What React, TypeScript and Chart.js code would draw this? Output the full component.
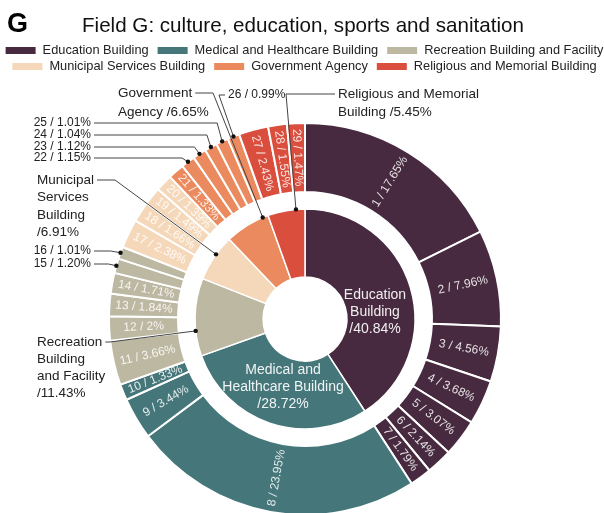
import { useEffect, useRef } from 'react';
import { Chart, registerables } from 'chart.js';

Chart.register(...registerables);

const FONT = '"Liberation Sans", Arial, Helvetica, sans-serif';

const titleLetter = 'G';
const titleText = 'Field G: culture, education, sports and sanitation';

const categories = [
  'Education Building',
  'Medical and Healthcare Building',
  'Recreation Building and Facility',
  'Municipal Services Building',
  'Government Agency',
  'Religious and Memorial Building',
];
const categoryShares = [40.84, 28.72, 11.43, 6.91, 6.65, 5.45];
const categoryColors = ['#472a3f', '#44767a', '#bcb8a2', '#f5d8b9', '#ea8a5e', '#da4e3d'];

// sub-items 1..29 (outer ring), clockwise from 12 o'clock
const subShares = [
  17.65, 7.96, 4.56, 3.68, 3.07, 2.14, 1.79,
  23.95, 3.44, 1.33,
  3.66, 2, 1.84, 1.71, 1.2, 1.01,
  2.38, 1.66, 1.49, 1.39,
  1.33, 1.15, 1.12, 1.04, 1.01, 0.99,
  2.43, 1.55, 1.47,
];
const subCategory = [
  0, 0, 0, 0, 0, 0, 0,
  1, 1, 1,
  2, 2, 2, 2, 2, 2,
  3, 3, 3, 3,
  4, 4, 4, 4, 4, 4,
  5, 5, 5,
];

const legendRows = [[0, 1, 2], [3, 4, 5]];

// inner ring labels drawn inside the slice (offsets from centre)
const innerInside = [
  { cat: 0, lines: ['Education', 'Building', '/40.84%'], dx: 70, dy: -24, lh: 17 },
  { cat: 1, lines: ['Medical and', 'Healthcare Building', '/28.72%'], dx: -22, dy: 51, lh: 17 },
];

// inner ring callouts
const innerCallouts = [
  { cat: 4, lines: ['Government', 'Agency /6.65%'], tx: 118, ty: 93, lh: 19, elbowX: 213, frac: 0.875 },
  { cat: 5, lines: ['Religious and Memorial', 'Building /5.45%'], tx: 338, ty: 94, lh: 18, elbowX: 286, frac: 0.76 },
  { cat: 3, lines: ['Municipal', 'Services', 'Building', '/6.91%'], tx: 37, ty: 180, lh: 17.5, elbowX: 115, frac: 0.58 },
  { cat: 2, lines: ['Recreation', 'Building', 'and Facility', '/11.43%'], tx: 37, ty: 342, lh: 17, elbowX: 110, frac: 0.325 },
];

// outer ring callouts
const outerCallouts = [
  { num: 16, tx: 91, ty: 251, align: 'right', elbowDx: -10 },
  { num: 15, tx: 91, ty: 264, align: 'right', elbowDx: -8 },
  { num: 22, tx: 91, ty: 158, align: 'right', elbowDx: -6 },
  { num: 23, tx: 91, ty: 147, align: 'right', elbowDx: -5 },
  { num: 24, tx: 91, ty: 135, align: 'right', elbowDx: -4 },
  { num: 25, tx: 91, ty: 123, align: 'right', elbowDx: -5 },
  { num: 26, tx: 228, ty: 95, align: 'left', elbowDx: -14.5 },
];

const fmt = (v: number) => (Number.isInteger(v) ? String(v) : v.toFixed(2));

const overlayPlugin = {
  id: 'overlay',
  afterDraw(chart: any) {
    const ctx: CanvasRenderingContext2D = chart.ctx;
    const outerMeta = chart.getDatasetMeta(0);
    const innerMeta = chart.getDatasetMeta(2);
    const outsideNums = outerCallouts.map((c) => c.num);

    // outer ring labels
    outerMeta.data.forEach((arc: any, i: number) => {
      const num = i + 1;
      if (outsideNums.includes(num)) return;
      const p = arc.getProps(['x', 'y', 'startAngle', 'endAngle', 'innerRadius', 'outerRadius'], true);
      const a = (p.startAngle + p.endAngle) / 2;
      const r = (p.innerRadius + p.outerRadius) / 2;
      ctx.save();
      ctx.translate(p.x + Math.cos(a) * r, p.y + Math.sin(a) * r);
      ctx.rotate(Math.cos(a) >= 0 ? a : a + Math.PI);
      ctx.font = `12px ${FONT}`;
      ctx.fillStyle = 'rgba(255,255,255,0.86)';
      ctx.textAlign = 'center';
      ctx.textBaseline = 'middle';
      ctx.fillText(`${num} / ${fmt(subShares[i])}%`, 0, 0);
      ctx.restore();
    });

    // inner ring inside labels
    innerInside.forEach((lab) => {
      const p = innerMeta.data[lab.cat].getProps(['x', 'y'], true);
      ctx.save();
      ctx.font = `14px ${FONT}`;
      ctx.fillStyle = 'rgba(255,255,255,0.92)';
      ctx.textAlign = 'center';
      ctx.textBaseline = 'middle';
      lab.lines.forEach((ln, k) => ctx.fillText(ln, p.x + lab.dx, p.y + lab.dy + k * lab.lh));
      ctx.restore();
    });

    const dot = (x: number, y: number) => {
      ctx.beginPath();
      ctx.arc(x, y, 2.2, 0, Math.PI * 2);
      ctx.fillStyle = '#111';
      ctx.fill();
    };

    // outer callouts
    outerCallouts.forEach((c) => {
      const arc = outerMeta.data[c.num - 1];
      const p = arc.getProps(['x', 'y', 'startAngle', 'endAngle', 'outerRadius'], true);
      const a = (p.startAngle + p.endAngle) / 2;
      const dx = p.x + Math.cos(a) * p.outerRadius;
      const dy = p.y + Math.sin(a) * p.outerRadius;
      ctx.save();
      ctx.font = `12px ${FONT}`;
      ctx.fillStyle = '#222';
      ctx.textAlign = c.align as CanvasTextAlign;
      ctx.textBaseline = 'middle';
      ctx.fillText(`${c.num} / ${fmt(subShares[c.num - 1])}%`, c.tx, c.ty);
      const sx = c.align === 'right' ? c.tx + 3 : c.tx - 3;
      ctx.strokeStyle = '#444';
      ctx.lineWidth = 1;
      ctx.beginPath();
      ctx.moveTo(sx, c.ty);
      ctx.lineTo(dx + c.elbowDx, c.ty);
      ctx.lineTo(dx, dy);
      ctx.stroke();
      dot(dx, dy);
      ctx.restore();
    });

    // inner callouts
    innerCallouts.forEach((c) => {
      const arc = innerMeta.data[c.cat];
      const p = arc.getProps(['x', 'y', 'startAngle', 'endAngle', 'outerRadius'], true);
      const a = p.startAngle + (p.endAngle - p.startAngle) * c.frac;
      const dx = p.x + Math.cos(a) * p.outerRadius;
      const dy = p.y + Math.sin(a) * p.outerRadius;
      ctx.save();
      ctx.font = `13.5px ${FONT}`;
      ctx.fillStyle = '#222';
      ctx.textAlign = 'left';
      ctx.textBaseline = 'middle';
      c.lines.forEach((ln, k) => ctx.fillText(ln, c.tx, c.ty + k * c.lh));
      const w = ctx.measureText(c.lines[0]).width;
      const sx = c.elbowX > c.tx ? c.tx + w + 3 : c.tx - 3;
      ctx.strokeStyle = '#444';
      ctx.lineWidth = 1;
      ctx.beginPath();
      ctx.moveTo(sx, c.ty);
      ctx.lineTo(c.elbowX, c.ty);
      ctx.lineTo(dx, dy);
      ctx.stroke();
      dot(dx, dy);
      ctx.restore();
    });

    // title
    ctx.save();
    ctx.fillStyle = '#000';
    ctx.textBaseline = 'alphabetic';
    ctx.textAlign = 'left';
    ctx.font = `bold 27px ${FONT}`;
    ctx.fillText(titleLetter, 7, 32);
    ctx.font = `20.6px ${FONT}`;
    ctx.fillStyle = '#111';
    ctx.fillText(titleText, 82, 32);
    ctx.restore();

    // legend
    ctx.save();
    ctx.font = `12.8px ${FONT}`;
    ctx.textBaseline = 'middle';
    ctx.textAlign = 'left';
    const sw = 30, sh = 7, gap1 = 7, gap2 = 9;
    const rowY = [50.5, 66.5];
    legendRows.forEach((row, ri) => {
      const widths = row.map((ci) => ctx.measureText(categories[ci]).width);
      const total = widths.reduce((s, w) => s + sw + gap1 + w, 0) + gap2 * (row.length - 1);
      let x = 304.5 - total / 2;
      row.forEach((ci, k) => {
        ctx.fillStyle = categoryColors[ci];
        ctx.fillRect(x, rowY[ri] - sh / 2, sw, sh);
        x += sw + gap1;
        ctx.fillStyle = '#222';
        ctx.fillText(categories[ci], x, rowY[ri]);
        x += widths[k] + gap2;
      });
    });
    ctx.restore();
  },
};

export default function App() {
  const ref = useRef<HTMLCanvasElement | null>(null);
  useEffect(() => {
    if (!ref.current) return;
    const chart = new Chart(ref.current, {
      type: 'doughnut',
      data: {
        labels: subShares.map((_, i) => String(i + 1)),
        datasets: [
          {
            data: subShares,
            backgroundColor: subCategory.map((c) => categoryColors[c]),
            borderColor: '#ffffff',
            borderWidth: 2,
            hoverBorderWidth: 2,
            hoverOffset: 0,
            weight: 69,
          } as any,
          {
            data: [1],
            backgroundColor: 'rgba(0,0,0,0)',
            borderWidth: 0,
            hoverOffset: 0,
            weight: 17,
          } as any,
          {
            data: categoryShares,
            backgroundColor: categoryColors,
            borderColor: '#ffffff',
            borderWidth: 1.5,
            hoverBorderWidth: 1.5,
            hoverOffset: 0,
            weight: 68,
          } as any,
        ],
      },
      options: {
        responsive: false,
        animation: false,
        devicePixelRatio: 1,
        cutout: '21.4%',
        events: [],
        layout: { padding: { left: 108, right: 102, top: 122, bottom: 24 } },
        plugins: {
          legend: { display: false },
          tooltip: { enabled: false },
          title: { display: false },
        },
      } as any,
      plugins: [overlayPlugin],
    });
    return () => chart.destroy();
  }, []);
  return (
    <div style={{ position: 'fixed', left: 0, top: 0, width: 604, height: 513, overflow: 'hidden', background: '#fff' }}>
      <canvas ref={ref} width={604} height={540} style={{ display: 'block' }} />
    </div>
  );
}
